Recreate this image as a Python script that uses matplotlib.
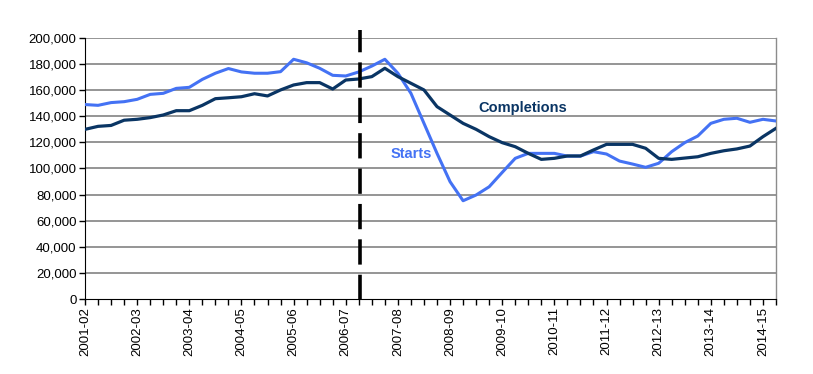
import matplotlib
matplotlib.use("Agg")
import matplotlib.pyplot as plt
import numpy as np

plt.rcParams['font.family'] = ['Liberation Sans', 'DejaVu Sans']

years = ["2001-02", "2002-03", "2003-04", "2004-05", "2005-06", "2006-07", "2007-08",
         "2008-09", "2009-10", "2010-11", "2011-12", "2012-13", "2013-14", "2014-15"]

starts = [149.0, 148.4, 150.5, 151.2, 153.0, 156.8, 157.6, 161.4, 162.2, 168.3, 173.0, 176.6,
          174.0, 173.0, 173.0, 174.2, 183.7, 181.0, 176.8, 171.4, 170.9, 174.0, 178.5, 183.7,
          173.0, 157.6, 134.6, 111.6, 89.9, 75.3, 79.7, 86.0, 97.0, 107.8, 111.6, 111.6,
          111.6, 109.5, 109.5, 112.9, 111.1, 105.7, 103.4, 100.9, 104.0, 112.9, 119.8, 124.9,
          134.6, 137.7, 138.5, 135.4, 137.7, 136.4]

completions = [130.0, 132.3, 133.0, 137.0, 137.7, 139.0, 141.0, 144.3, 144.3, 148.4, 153.5, 154.2,
               155.0, 157.3, 155.6, 160.2, 164.0, 165.8, 165.8, 160.9, 167.8, 168.6, 170.4, 176.8,
               170.4, 165.3, 160.2, 147.4, 141.0, 134.6, 130.0, 124.4, 119.8, 116.7, 111.6, 107.0,
               107.8, 109.6, 109.6, 114.2, 118.5, 118.5, 118.5, 115.5, 107.8, 107.0, 108.0, 109.0,
               111.6, 113.6, 115.0, 117.2, 124.4, 130.8]

policy_break_index = 21.1

x = np.arange(len(starts))
starts_v = np.array(starts) * 1000
comp_v = np.array(completions) * 1000

fig = plt.figure(figsize=(8.13, 3.74), dpi=100)
ax = fig.add_axes([85/813, 1-299/374, (776-85)/813, (299-38)/374])

yt = np.arange(0, 200001, 20000)
for v in yt[1:]:
    ax.axhline(v, color='#8c8c8c', lw=1.3, zorder=1)

ax.plot(x, starts_v, color='#4472F4', lw=2.2, zorder=3, solid_joinstyle='round')
ax.plot(x, comp_v, color='#0A3564', lw=2.3, zorder=4, solid_joinstyle='round')

ax.plot([policy_break_index, policy_break_index], [-1000, 206000], color='black', lw=2.6,
        dashes=(7, 2.8), clip_on=False, zorder=5)

ax.set_xlim(0, len(starts) - 1)
ax.set_ylim(0, 200000)
ax.set_yticks(yt)
ax.set_yticklabels([f"{v:,}" for v in yt], fontsize=9.5)

ax.set_xticks(x)
labels = [''] * len(x)
for i, yname in enumerate(years):
    labels[i * 4] = yname
ax.set_xticklabels(labels, rotation=90, fontsize=9.5)

ax.tick_params(axis='both', direction='out', length=4, width=1, color='black', pad=2)
ax.spines['right'].set_color('#8c8c8c')
ax.spines['right'].set_linewidth(1.0)
ax.spines['top'].set_visible(False)
ax.spines['left'].set_color('black')
ax.spines['bottom'].set_color('black')

ax.text(33.6, 146500, "Completions", color='#0A3564', fontsize=10.5, fontweight='bold',
        ha='center', va='center', zorder=6)
ax.text(25.0, 110800, "Starts", color='#4472F4', fontsize=10.5, fontweight='bold',
        ha='center', va='center', zorder=6)

fig.savefig("out.png", dpi=100)
